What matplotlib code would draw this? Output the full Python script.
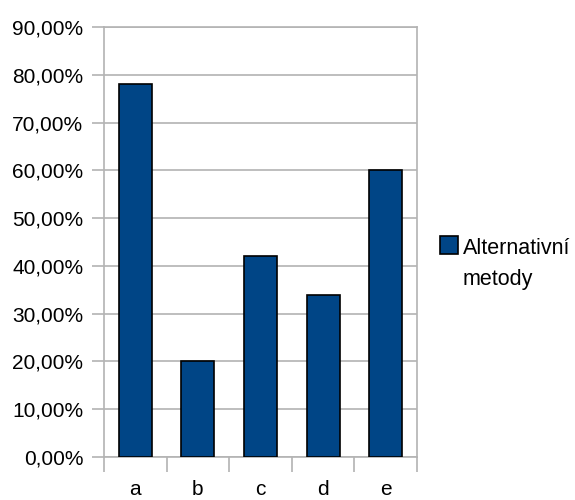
import matplotlib.pyplot as plt
from matplotlib.patches import Rectangle
from matplotlib.ticker import FuncFormatter, MultipleLocator

plt.rcParams['font.family'] = ['Liberation Sans', 'DejaVu Sans']

categories = ['a', 'b', 'c', 'd', 'e']
values = [78, 20, 42, 34, 60]
series_name = 'Alternativní\nmetody'

bar_color = '#004586'
grid_color = '#b3b3b3'

fig = plt.figure(figsize=(5.75, 5), dpi=100)
ax = fig.add_axes([104 / 575, 43 / 500, 313 / 575, 430 / 500])

x = range(len(categories))
ax.bar(x, values, width=0.53, color=bar_color, edgecolor='black', linewidth=1.2, zorder=3)

ax.set_xlim(-0.5, len(categories) - 0.5)
ax.set_ylim(0, 90)
ax.yaxis.set_major_locator(MultipleLocator(10))
ax.yaxis.set_major_formatter(FuncFormatter(lambda v, p: f'{v:.2f}'.replace('.', ',') + '%'))
ax.grid(axis='y', color=grid_color, linewidth=1.2, zorder=0)

# boundary ticks between categories, names placed on a common baseline
ax.set_xticks([i - 0.5 for i in range(len(categories) + 1)])
ax.set_xticklabels([])
ax.tick_params(axis='x', length=11, width=1.2, color=grid_color)
ax.tick_params(axis='y', length=9, width=1.2, color=grid_color, labelsize=15, pad=6)
for i, name in zip(x, categories):
    ax.text(i, -38 / 430, name, transform=ax.get_xaxis_transform(),
            ha='center', va='baseline', fontsize=15)

for s in ax.spines.values():
    s.set_color(grid_color)
    s.set_linewidth(1.2)

# legend: marker beside the first line, name wrapped onto two lines
fig.patches.append(Rectangle((440 / 575, 1 - 254 / 500), 18 / 575, 18 / 500,
                             transform=fig.transFigure, facecolor=bar_color,
                             edgecolor='black', linewidth=1.2))
for k, line in enumerate(series_name.split('\n')):
    fig.text(463 / 575, 1 - (254 + 31 * k) / 500, line, fontsize=15.5,
             va='baseline', transform=fig.transFigure)

fig.savefig('out.png', dpi=100)
